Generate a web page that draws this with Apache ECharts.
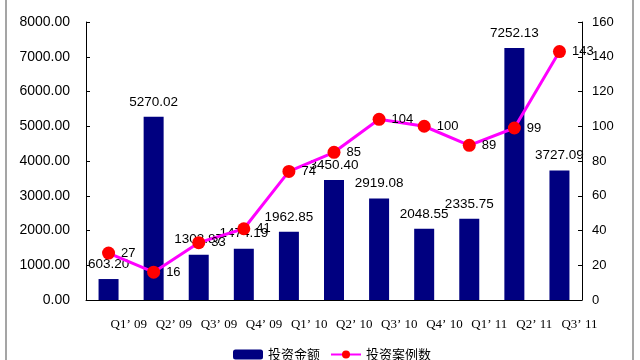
<!DOCTYPE html>
<html><head><meta charset="utf-8">
<script src="https://cdn.jsdelivr.net/npm/echarts@6/dist/echarts.min.js"></script>
<style>html,body{margin:0;padding:0;background:#fff}#c{width:640px;height:360px}</style>
</head><body><div id="c"></div>
<script>
const categories = ["Q1\u2019 09","Q2\u2019 09","Q3\u2019 09","Q4\u2019 09","Q1\u2019 10","Q2\u2019 10","Q3\u2019 10","Q4\u2019 10","Q1\u2019 11","Q2\u2019 11","Q3\u2019 11"];
const amounts = [603.20, 5270.02, 1303.87, 1474.19, 1962.85, 3450.40, 2919.08, 2048.55, 2335.75, 7252.13, 3727.09];
const cases = [27, 16, 33, 41, 74, 85, 104, 100, 89, 99, 143];
const seriesNames = ["投资金额", "投资案例数"];

const chart = echarts.init(document.getElementById('c'));
chart.setOption({
  animation: false,
  grid: {left: 86, right: 58, top: 22, bottom: 60},
  graphic: [{type:'rect', shape:{x:6, y:-2, width:627, height:370}, style:{fill:'none', stroke:'#888', lineWidth:1.5}}],
  legend: {
    bottom: -6, left: 228, itemGap: 10, itemWidth: 30, itemHeight: 10,
    textStyle: {fontSize: 13, color: '#000', fontFamily: 'Noto Sans CJK SC'},
    data: [{name: seriesNames[0]}, {name: seriesNames[1]}]
  },
  xAxis: {
    type: 'category', data: categories,
    axisLine: {lineStyle: {color: '#000'}},
    axisTick: {inside: true, length: 4, lineStyle:{color:'#000'}},
    axisLabel: {interval: 0, hideOverlap: false, fontFamily: 'Liberation Serif', fontSize: 13, color: '#000', margin: 18, align: 'left', padding: [0,0,0,2]}
  },
  yAxis: [{
    type: 'value', min: 0, max: 8000, interval: 1000,
    splitLine: {show: false},
    axisLine: {show: true, lineStyle: {color: '#000'}},
    axisTick: {show: true, inside: true, length: 4, lineStyle:{color:'#000'}},
    axisLabel: {formatter: v => v.toFixed(2), fontFamily: 'Liberation Sans', fontSize: 14, color: '#000', margin: 16}
  }, {
    type: 'value', min: 0, max: 160, interval: 20,
    splitLine: {show: false},
    axisLine: {show: true, lineStyle: {color: '#000'}},
    axisTick: {show: true, inside: true, length: 4, lineStyle:{color:'#000'}},
    axisLabel: {fontFamily: 'Liberation Sans', fontSize: 13, color: '#000', margin: 10}
  }],
  series: [{
    name: seriesNames[0], type: 'bar', data: amounts, barWidth: 20,
    itemStyle: {color: '#000080'},
    label: {show: true, position: 'top', formatter: p => p.value.toFixed(2), fontFamily: 'Liberation Sans', fontSize: 13.5, color: '#000', distance: 8}
  }, {
    name: seriesNames[1], type: 'line', yAxisIndex: 1, data: cases,
    lineStyle: {color: '#FF00FF', width: 3},
    itemStyle: {color: '#FF0000'},
    symbol: 'circle', symbolSize: 13,
    label: {show: true, position: 'right', fontFamily: 'Liberation Sans', fontSize: 13, color: '#000', distance: 6}
  }]
});
</script></body></html>
